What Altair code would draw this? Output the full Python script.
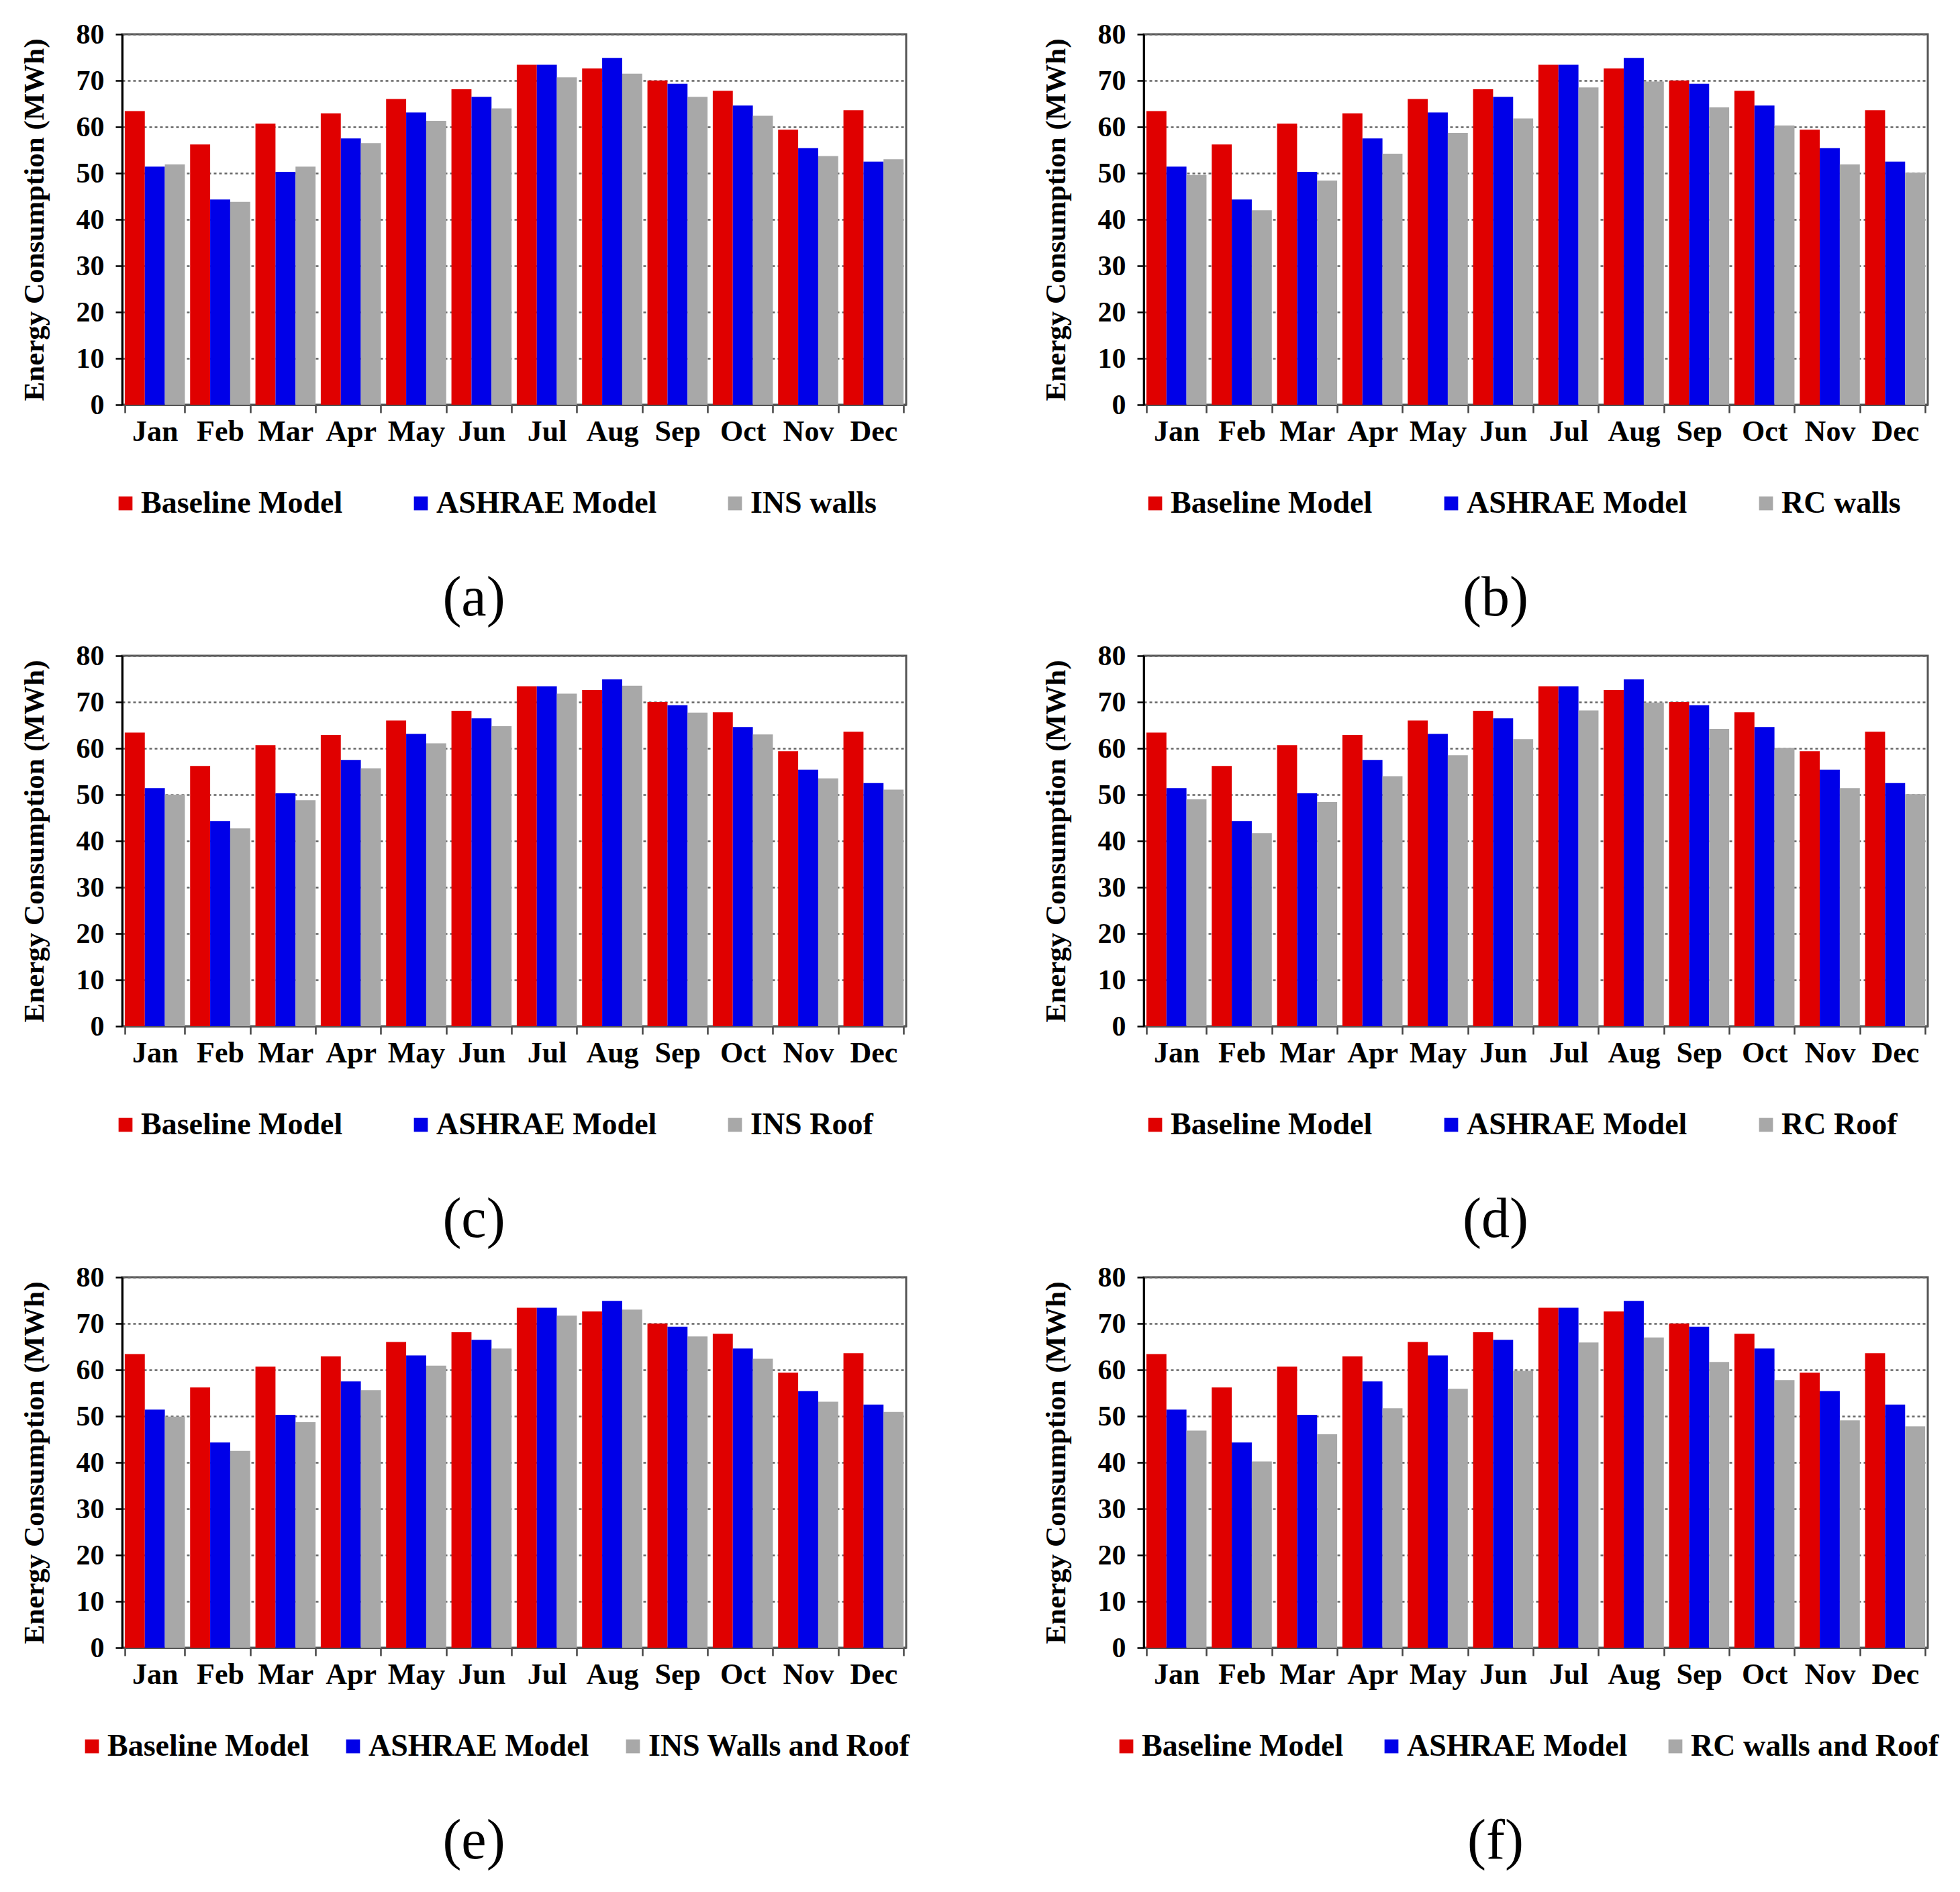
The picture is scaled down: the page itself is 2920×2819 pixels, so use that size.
import altair as alt
import pandas as pd

months = ["Jan", "Feb", "Mar", "Apr", "May", "Jun", "Jul", "Aug", "Sep", "Oct", "Nov", "Dec"]

baseline = [63.4, 56.2, 60.7, 62.9, 66.0, 68.1, 73.4, 72.6, 70.0, 67.8, 59.4, 63.6]
ashrae = [51.4, 44.3, 50.3, 57.5, 63.1, 66.5, 73.4, 74.9, 69.3, 64.6, 55.4, 52.5]

ins_walls = [51.9, 43.8, 51.4, 56.5, 61.3, 64.0, 70.7, 71.5, 66.5, 62.4, 53.7, 53.0]
rc_walls = [49.6, 42.0, 48.4, 54.2, 58.7, 61.8, 68.5, 69.8, 64.2, 60.3, 51.9, 50.1]
ins_roof = [50.0, 42.7, 48.8, 55.7, 61.1, 64.8, 71.8, 73.5, 67.7, 63.0, 53.5, 51.1]
rc_roof = [49.0, 41.7, 48.4, 54.0, 58.5, 62.0, 68.2, 69.9, 64.2, 60.1, 51.4, 50.1]
ins_walls_roof = [49.9, 42.5, 48.7, 55.6, 60.9, 64.6, 71.7, 73.0, 67.2, 62.4, 53.1, 50.9]
rc_walls_roof = [46.9, 40.2, 46.1, 51.7, 55.9, 59.8, 65.9, 67.0, 61.7, 57.8, 49.1, 47.8]

panel_letters = ["a", "b", "c", "d", "e", "f"]
panel_labels = ["INS  walls", "RC walls", "INS Roof", "RC Roof", "INS Walls and Roof", "RC walls and Roof"]
panel_values = [ins_walls, rc_walls, ins_roof, rc_roof, ins_walls_roof, rc_walls_roof]

series_colors = ["#E00000", "#0000E8", "#A8A8A8"]
y_ticks = [0, 10, 20, 30, 40, 50, 60, 70, 80]

FONT = "Liberation Serif"
PW, PH = 1168, 552

legend_pad = [93, 94, 93, 94, 42, 48]
legend_x = [-18, -6, -18, -6, -68, -49]


def panel(i):
    names = ["Baseline Model", "ASHRAE Model", panel_labels[i]]
    rows = []
    for name, vals in zip(names, [baseline, ashrae, panel_values[i]]):
        for m, v in zip(months, vals):
            rows.append({"month": m, "series": name, "value": v})
    df = pd.DataFrame(rows)
    title = alt.Title(
        f"({panel_letters[i]})",
        orient="bottom",
        font=FONT,
        fontSize=84,
        fontWeight="normal",
        color="black",
        offset=78,
        dx=-60,
    )
    return (
        alt.Chart(df, title=title)
        .mark_bar()
        .encode(
            x=alt.X(
                "month:N",
                sort=months,
                scale=alt.Scale(paddingInner=0.08, paddingOuter=0.04),
                axis=alt.Axis(
                    title=None,
                    labelAngle=0,
                    tickBand="extent",
                    grid=False,
                    labelFont=FONT,
                    labelFontSize=44,
                    labelFontWeight="bold",
                    labelColor="black",
                    labelPadding=6,
                    tickSize=12,
                    tickWidth=2.5,
                    tickColor="#444",
                    domainColor="#555",
                    domainWidth=3,
                ),
            ),
            xOffset=alt.XOffset("series:N", sort=names, scale=alt.Scale(domain=names, paddingInner=0, paddingOuter=0)),
            y=alt.Y(
                "value:Q",
                scale=alt.Scale(domain=[0, 80], nice=False),
                axis=alt.Axis(
                    values=y_ticks,
                    title="Energy Consumption (MWh)",
                    titleFont=FONT,
                    titleFontSize=43,
                    titleFontWeight="bold",
                    titleColor="black",
                    titlePadding=40,
                    labelFont=FONT,
                    labelFontSize=42,
                    labelFontWeight="bold",
                    labelColor="black",
                    labelPadding=17,
                    tickSize=10,
                    tickWidth=2.5,
                    tickColor="black",
                    domainColor="black",
                    domainWidth=3,
                    grid=True,
                    gridDash=[4, 4],
                    gridColor="#666",
                    gridWidth=2.5,
                ),
            ),
            color=alt.Color(
                "series:N",
                sort=names,
                scale=alt.Scale(domain=names, range=series_colors),
                legend=alt.Legend(
                    title=None,
                    orient="none",
                    legendX=legend_x[i],
                    legendY=PH + 124,
                    direction="horizontal",
                    columns=3,
                    columnPadding=legend_pad[i],
                    symbolType="square",
                    symbolSize=430,
                    symbolStrokeWidth=0,
                    labelFont=FONT,
                    labelFontSize=46,
                    labelFontWeight="bold",
                    labelColor="black",
                    labelLimit=800,
                    labelOffset=0,
                ),
            ),
        )
        .properties(width=PW, height=PH)
    )


panels = [panel(i) for i in range(6)]

chart = (
    alt.concat(*panels, columns=2, spacing={"row": 18, "column": 192})
    .resolve_scale(color="independent", x="independent", y="independent", xOffset="independent")
    .resolve_legend(color="independent")
    .configure_view(stroke="#555", strokeWidth=3)
    .properties(background="white", padding={"left": 20, "top": 20, "right": 10, "bottom": 10})
)

chart.save("out.html", embed_options={"renderer": "svg", "actions": False})
